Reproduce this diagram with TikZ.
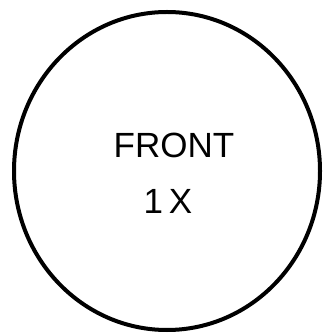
\documentclass[tikz,border=0pt]{standalone}
\usepackage{fontspec}
\setmainfont{Liberation Sans}
\usetikzlibrary{shapes.geometric}

\begin{document}
\begin{tikzpicture}[
  x=1pt, y=1pt,
  rim/.style={draw, ellipse, line width=4pt, minimum width=306pt,
              minimum height=318pt, inner sep=0pt},
  lbl/.style={font=\fontsize{35}{40}\selectfont, inner sep=0pt}
]
\useasboundingbox (0,0) rectangle (323,334);
\node[rim] (face) at (167,163) {};
\node[lbl] (side) at (174,189) {FRONT};
\node[lbl] (count) at (168,133) {1\,X};
\end{tikzpicture}
\end{document}
